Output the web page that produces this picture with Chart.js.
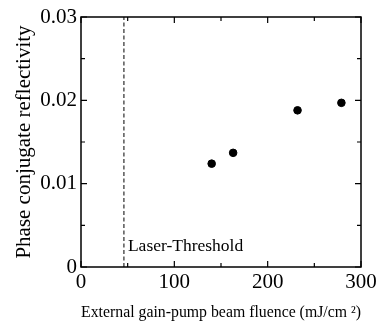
<!DOCTYPE html>
<html><head><meta charset="utf-8">
<script src="https://cdn.jsdelivr.net/npm/chart.js@4/dist/chart.umd.min.js"></script>
<style>html,body{margin:0;padding:0;background:#fff}#w{width:385px;height:321px}</style>
</head><body><div id="w"><canvas id="c"></canvas></div>
<script>
const fluence = [140, 163, 232, 279];
const reflectivity = [0.0124, 0.0137, 0.0188, 0.0197];
const thresholdFluence = 46;
const xTicks = [0, 100, 200, 300];
const yTicks = [0, 0.01, 0.02, 0.03];
const xMinor = [50, 150, 250];
const yMinor = [0.005, 0.015, 0.025];
const thresholdLabel = 'Laser-Threshold';
const xTitle = 'External gain-pump beam fluence (mJ/cm \u00B2)';
const yTitle = 'Phase conjugate reflectivity';

const SERIF = '"Liberation Serif", "DejaVu Serif", serif';

const frame = {
  id: 'frame',
  afterDatasetsDraw(chart) {
    const {ctx, chartArea: a, scales: {x, y}} = chart;
    ctx.save();
    ctx.strokeStyle = '#000';
    ctx.lineWidth = 1.5;
    ctx.strokeRect(a.left, a.top, a.right - a.left, a.bottom - a.top);
    ctx.lineWidth = 1.2;
    const tick = (vals, len) => {
      vals.forEach(v => {
        const px = x.getPixelForValue(v);
        ctx.beginPath();
        ctx.moveTo(px, a.bottom); ctx.lineTo(px, a.bottom - len);
        ctx.moveTo(px, a.top); ctx.lineTo(px, a.top + len);
        ctx.stroke();
      });
    };
    const ytick = (vals, len) => {
      vals.forEach(v => {
        const py = y.getPixelForValue(v);
        ctx.beginPath();
        ctx.moveTo(a.left, py); ctx.lineTo(a.left + len, py);
        ctx.moveTo(a.right, py); ctx.lineTo(a.right - len, py);
        ctx.stroke();
      });
    };
    tick(xTicks, 6); tick(xMinor, 4);
    ytick(yTicks, 6); ytick(yMinor, 4);
    ctx.fillStyle = '#000';
    ctx.font = '17.5px ' + SERIF;
    ctx.textAlign = 'left';
    ctx.textBaseline = 'middle';
    ctx.fillText(thresholdLabel, x.getPixelForValue(thresholdFluence) + 4, y.getPixelForValue(0.0025));
    ctx.restore();
  }
};

new Chart(document.getElementById('c'), {
  type: 'scatter',
  data: {
    datasets: [
      {
        data: fluence.map((v, i) => ({x: v, y: reflectivity[i]})),
        backgroundColor: '#000', borderColor: '#000',
        pointRadius: 3.8, pointHoverRadius: 3.8
      },
      {
        type: 'line',
        data: [{x: thresholdFluence, y: yTicks[0]}, {x: thresholdFluence, y: yTicks[yTicks.length - 1]}],
        borderColor: '#000', borderWidth: 1, borderDash: [4, 2.5],
        pointRadius: 0, fill: false
      }
    ]
  },
  plugins: [frame],
  options: {
    responsive: true, maintainAspectRatio: false, animation: false,
    layout: {padding: {top: 17, right: 24, left: 0, bottom: 0}},
    plugins: {legend: {display: false}, tooltip: {enabled: false}},
    scales: {
      x: {
        type: 'linear', min: 0, max: 300,
        afterBuildTicks: s => { s.ticks = xTicks.map(v => ({value: v})); },
        afterFit: s => { s.height = 54; },
        grid: {display: false, drawTicks: false},
        border: {display: false},
        ticks: {color: '#000', padding: 3, maxRotation: 0, font: {family: SERIF, size: 21}},
        title: {display: true, text: xTitle, color: '#000', padding: {top: 0, bottom: 0},
                font: {family: SERIF, size: 16.8, lineHeight: 0.95}}
      },
      y: {
        type: 'linear', min: 0, max: 0.03,
        afterBuildTicks: s => { s.ticks = yTicks.map(v => ({value: v})); },
        afterFit: s => { s.width = 81; },
        grid: {display: false, drawTicks: false},
        border: {display: false},
        ticks: {color: '#000', padding: 4, font: {family: SERIF, size: 21},
                callback: v => String(v)},
        title: {display: true, text: yTitle, color: '#000', padding: {top: 12, bottom: 0},
                font: {family: SERIF, size: 21, lineHeight: 1.2}}
      }
    }
  }
});
</script></body></html>
